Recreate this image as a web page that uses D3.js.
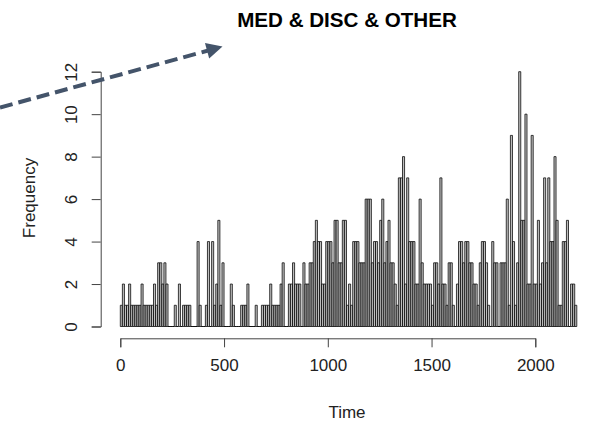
<!DOCTYPE html>
<html><head><meta charset="utf-8">
<script src="https://cdn.jsdelivr.net/npm/d3@7"></script>
<style>
html,body{margin:0;padding:0;background:#fff;}
svg{display:block;font-family:"Liberation Sans",Arial,sans-serif;}
</style></head>
<body>
<svg id="chart" width="592" height="421"></svg>
<script>
// Histogram of Time (bin width 10, from 0 to 2200)
const binWidth = 10;
const counts = [
  1,2,1,1,2,1,1,1,1,1,
  2,1,1,1,1,1,2,1,3,3,
  2,3,2,0,0,0,1,0,2,0,
  1,1,1,1,0,0,0,4,1,0,
  0,1,4,0,4,1,2,5,1,3,
  0,0,0,2,1,0,0,0,1,1,
  1,2,0,0,0,1,0,0,1,1,
  1,1,2,1,1,1,1,2,3,0,
  0,2,2,3,2,2,2,0,3,2,
  2,3,3,4,5,4,4,2,2,4,
  4,4,3,5,5,3,3,5,5,1,
  2,1,4,4,4,3,3,3,6,6,
  6,3,4,4,3,5,6,3,4,5,
  3,3,2,1,7,7,8,2,7,4,
  4,4,2,2,6,3,2,2,2,2,
  1,3,3,2,7,2,2,1,3,3,
  1,0,2,4,4,3,4,4,3,3,
  2,2,1,3,4,4,3,1,0,4,
  3,3,0,3,3,3,6,1,9,4,
  1,3,12,5,5,10,2,2,9,2,
  2,5,2,3,7,3,7,4,4,8,
  5,1,1,4,4,5,0,2,2,1
];
const xTicks = [0, 500, 1000, 1500, 2000];
const yTicks = [0, 2, 4, 6, 8, 10, 12];
const titleText = "MED & DISC & OTHER";
const xLabel = "Time";
const yLabel = "Frequency";

const svg = d3.select("#chart");
const x = d3.scaleLinear().domain([0, 2000]).range([120.3, 535.3]);
const y = d3.scaleLinear().domain([0, 12]).range([326.5, 71.7]);

// bars (R-style hist: grey fill, black border; zero bins drawn as a flat line)
const bars = counts.map((c, i) => ({start: i * binWidth, end: (i + 1) * binWidth, count: c}));
svg.append("g").selectAll("path").data(bars).join("path")
  .attr("d", d => {
    const p = d3.path();
    p.moveTo(x(d.start), y(0));
    p.lineTo(x(d.start), y(d.count));
    p.lineTo(x(d.end), y(d.count));
    p.lineTo(x(d.end), y(0));
    p.closePath();
    return p.toString();
  })
  .attr("fill", "#bebebe")
  .attr("stroke", "#000")
  .attr("stroke-width", 0.75);

// x axis
const xAxis = d3.axisBottom(x).tickValues(xTicks).tickSize(9).tickPadding(12).tickFormat(d3.format("d"));
const gx = svg.append("g").attr("transform", "translate(0,338.3)").call(xAxis);
gx.select(".domain").attr("stroke", "#444").attr("stroke-width", 1);
gx.selectAll(".tick line").attr("stroke", "#444");
gx.selectAll(".tick text").attr("font-size", 17).attr("fill", "#222")
  .attr("font-family", "Liberation Sans, Arial, sans-serif");

// y axis
const yAxis = d3.axisLeft(y).tickValues(yTicks).tickSize(9).tickFormat(d3.format("d"));
const gy = svg.append("g").attr("transform", "translate(100.7,0)").call(yAxis);
gy.select(".domain").attr("stroke", "#444").attr("stroke-width", 1);
gy.selectAll(".tick line").attr("stroke", "#444");
gy.selectAll(".tick text")
  .attr("font-size", 17).attr("fill", "#222")
  .attr("font-family", "Liberation Sans, Arial, sans-serif")
  .attr("x", null).attr("dy", null)
  .attr("text-anchor", "middle")
  .attr("dominant-baseline", "central")
  .attr("transform", "translate(-29,0) rotate(-90)");

// titles
svg.append("text").attr("x", 347).attr("y", 19).attr("text-anchor", "middle")
  .attr("dominant-baseline", "central").attr("font-weight", "bold")
  .attr("font-size", 20.6).attr("fill", "#000").text(titleText);
svg.append("text").attr("x", 347).attr("y", 412).attr("text-anchor", "middle")
  .attr("dominant-baseline", "central").attr("font-size", 17).attr("fill", "#222").text(xLabel);
svg.append("text").attr("transform", "translate(29,198) rotate(-90)").attr("text-anchor", "middle")
  .attr("dominant-baseline", "central").attr("font-size", 17).attr("fill", "#222").text(yLabel);

// annotation arrow
const arrowColor = "#44546a";
const x0 = 0, y0 = 107.5, x1 = 210, y1 = 50;
svg.append("line").attr("x1", x0).attr("y1", y0).attr("x2", x1).attr("y2", y1)
  .attr("stroke", arrowColor).attr("stroke-width", 4)
  .attr("stroke-dasharray", "13,6");
const ang = Math.atan2(y1 - y0, x1 - x0);
const tipX = 222.5, tipY = 46.5, L = 16, W = 8;
const bx = tipX - L * Math.cos(ang), by = tipY - L * Math.sin(ang);
const nx = -Math.sin(ang), ny = Math.cos(ang);
svg.append("path")
  .attr("d", `M${tipX},${tipY}L${bx + nx * W},${by + ny * W}L${bx - nx * W},${by - ny * W}Z`)
  .attr("fill", arrowColor);
</script>
</body></html>
